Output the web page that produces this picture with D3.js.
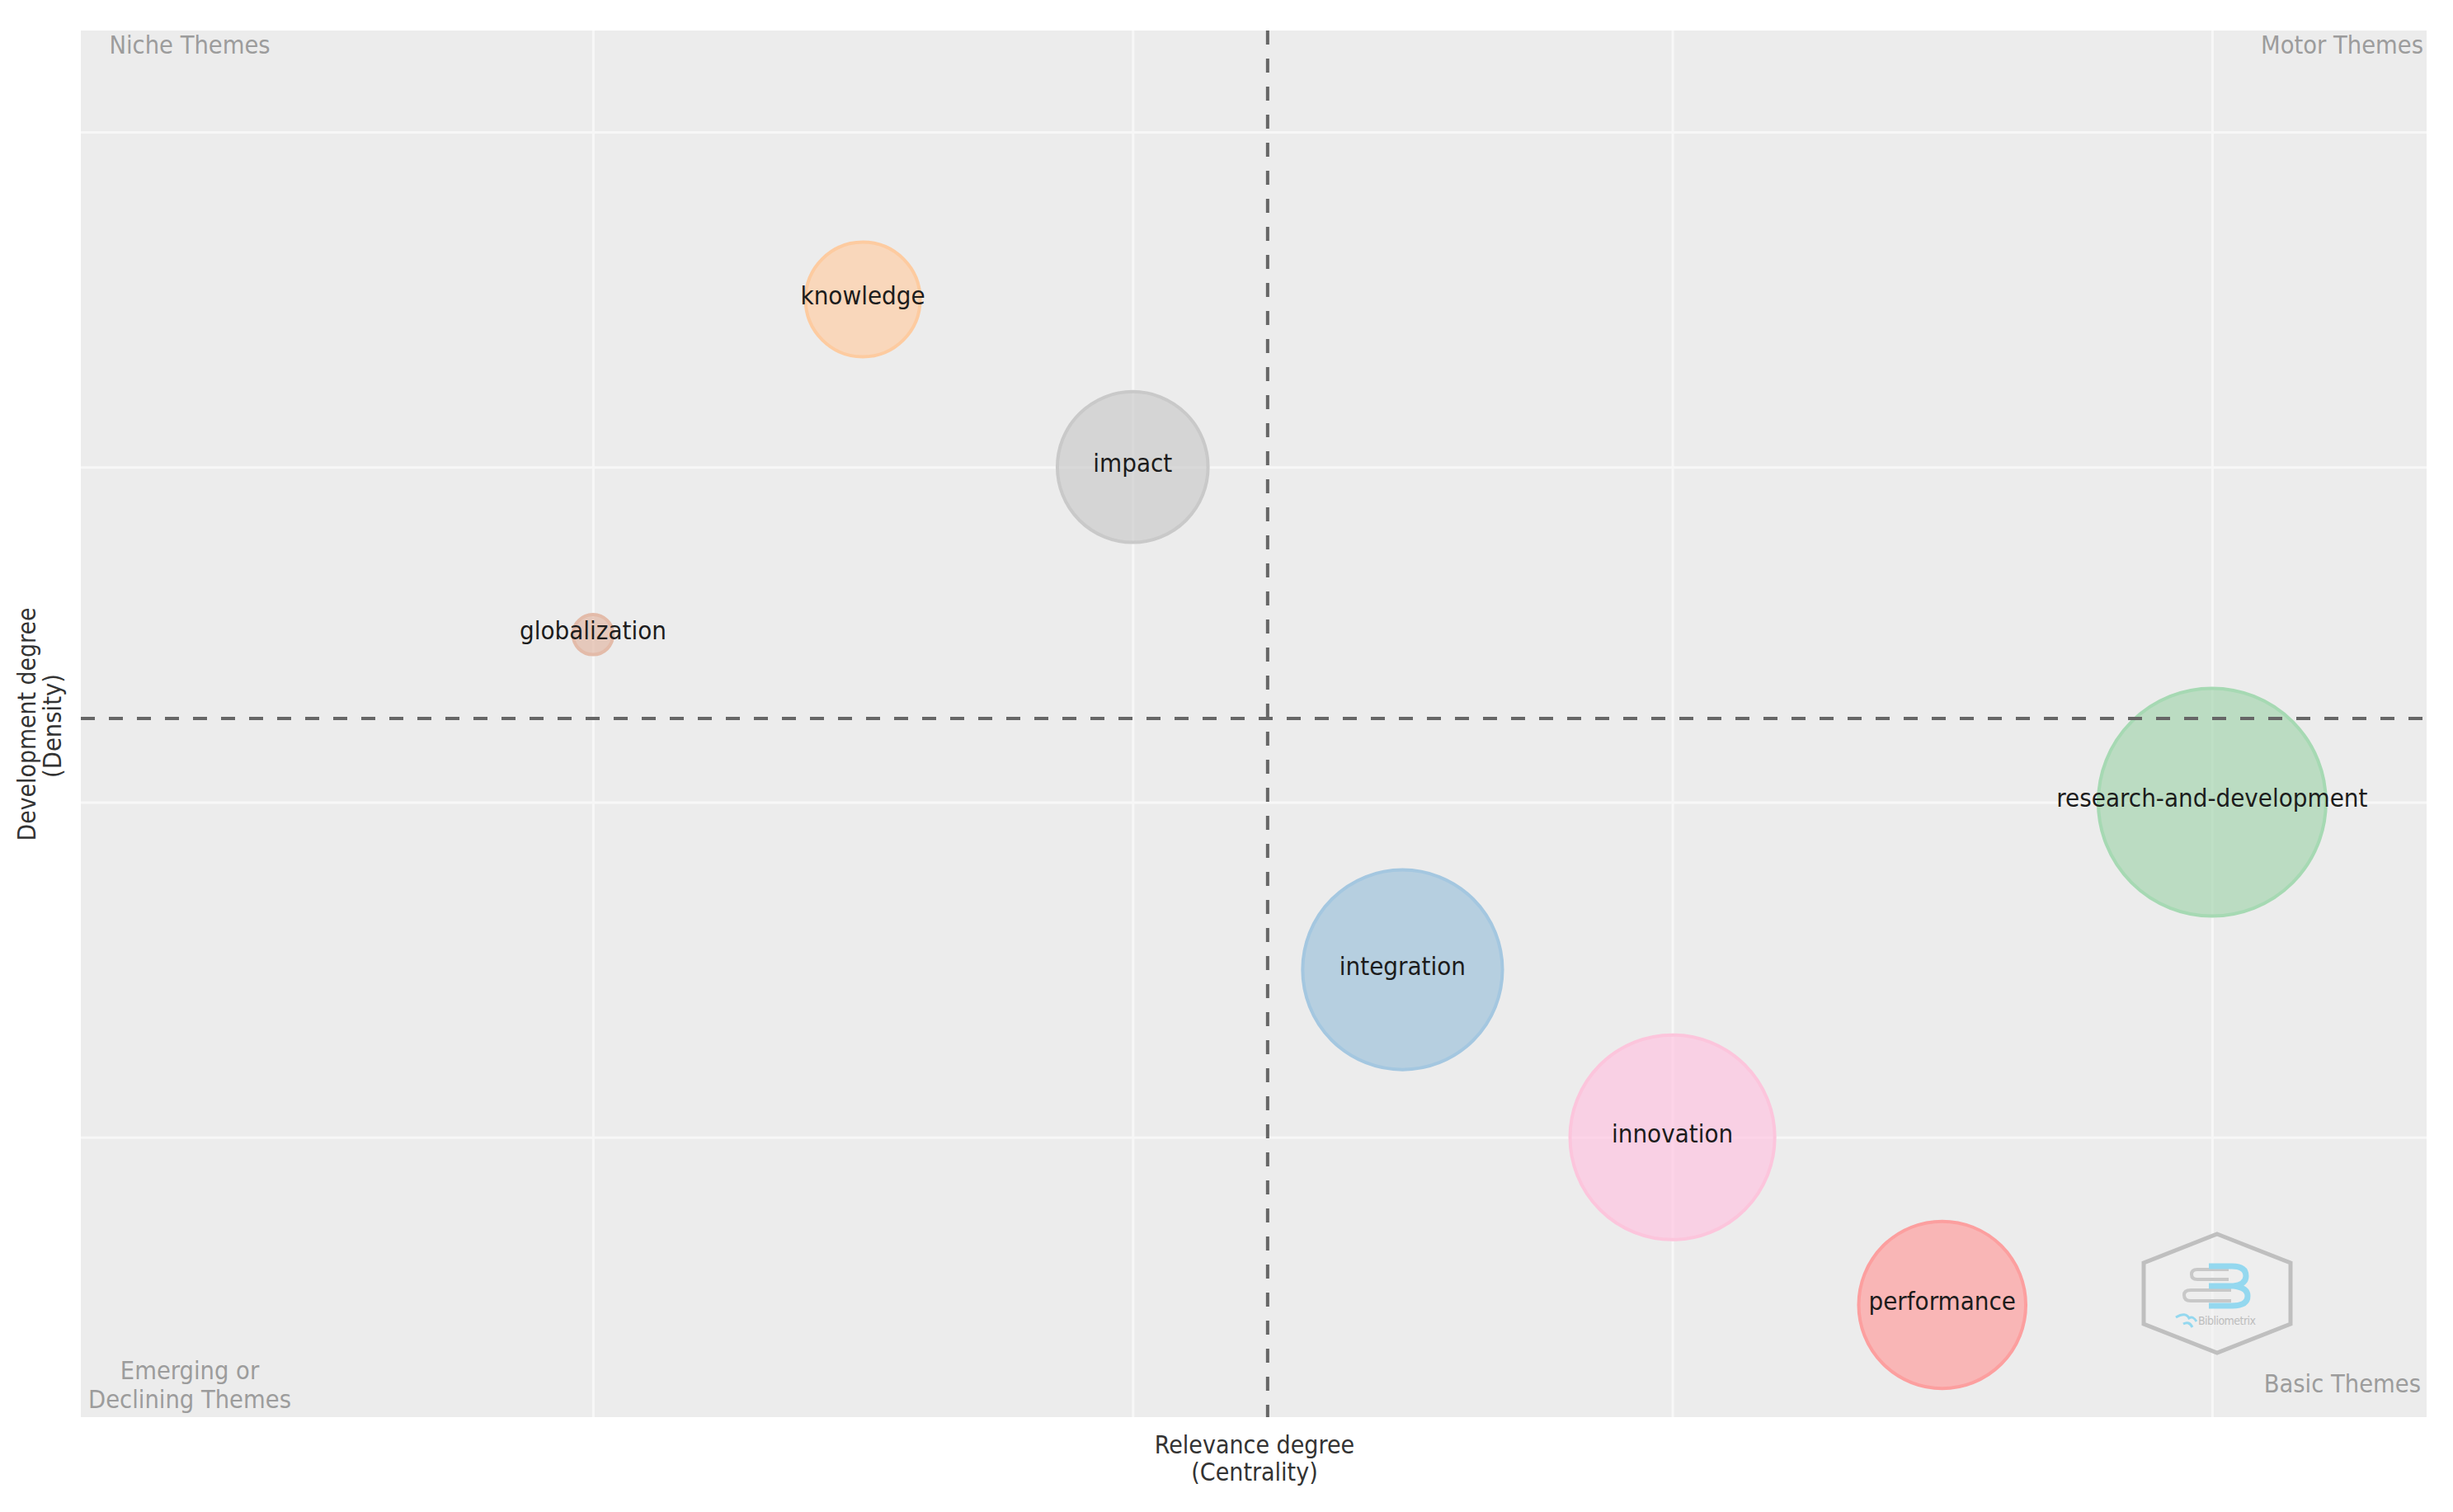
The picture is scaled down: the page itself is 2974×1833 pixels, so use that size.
<!DOCTYPE html>
<html>
<head>
<meta charset="utf-8">
<script src="https://d3js.org/d3.v7.min.js"></script>
<style type="text/css">
html, body {margin:0;padding:0;background:#fff;}
svg {display:block;}
text {font-family:"DejaVu Sans Condensed","DejaVu Sans",sans-serif;font-stretch:condensed;}
</style>
</head>

<body>
<svg id="chart" width="2974" height="1833"></svg>

<script type="text/javascript">
	// values: themes sit on rank positions
	var themes = ["globalization", "knowledge", "impact", "integration", "innovation", "performance", "research-and-development"];
	var centrality = [1, 2, 3, 4, 5, 6, 7];
	var density = [5, 7, 6, 3, 2, 1, 4];
	var clusterSize = [62, 507, 876, 1540, 1617, 1077, 2000];
	var xGrid = [1, 3, 5, 7];
	var yGrid = [2, 4, 6, 8];
	var xMedian = 3.5;
	var yMedian = 4.5;

	var fills = ["#e3b9a6", "#ffcfa6", "#cccccc", "#9fc3db", "#ffc5e1", "#ff9f9f", "#a7d5b1"];
	var strokes = ["#e3bba9", "#fdcba0", "#c9c9c9", "#a4c7e0", "#fcc5dc", "#fc9f9f", "#a6d9b3"];

	var W = 2974, H = 1833;
	var margin = {left:98, right:32, top:37, bottom:115};
	var plotW = W - margin.left - margin.right;
	var plotH = H - margin.top - margin.bottom;

	var x = d3.scaleLinear().domain([-0.898, 7.795]).range([0, plotW]);
	var y = d3.scaleLinear().domain([0.33, 8.605]).range([plotH, 0]);
	var r = d3.scaleSqrt().domain([0, 2000]).range([0, 138]);

	var svg = d3.select("#chart");
	var g = svg.append("g").attr("transform", "translate(" + margin.left + "," + margin.top + ")");

	g.append("rect").attr("width", plotW).attr("height", plotH).attr("fill", "#ececec");

	// grid comes from the axes, no tick labels in this chart
	g.append("g").attr("transform", "translate(0," + plotH + ")")
		.call(d3.axisBottom(x).tickValues(xGrid).tickSize(-plotH).tickFormat(""));
	g.append("g")
		.call(d3.axisLeft(y).tickValues(yGrid).tickSize(-plotW).tickFormat(""));
	g.selectAll(".domain").remove();
	g.selectAll(".tick line").attr("stroke", "#f7f7f7").attr("stroke-width", 3);

	// hexagon logo, bottom right
	var logo = g.append("g").attr("transform", "translate(" + (2688 - margin.left) + "," + (1568 - margin.top) + ")");
	logo.append("polygon")
		.attr("points", "0,-72 89,-37 89,37 0,72 -89,37 -89,-37")
		.attr("fill", "#f0f0f0").attr("fill-opacity", 0.6)
		.attr("stroke", "#bfbfbf").attr("stroke-width", 5);
	logo.append("path")
		.attr("d", "M14,-29 H-24 Q-31,-29 -31,-23 Q-31,-17 -24,-17 H14")
		.attr("fill", "none").attr("stroke", "#c8c8c8").attr("stroke-width", 4);
	logo.append("path")
		.attr("d", "M17,-4 H-32 Q-40,-4 -40,2 Q-40,9 -32,9 H17")
		.attr("fill", "none").attr("stroke", "#c8c8c8").attr("stroke-width", 4);
	logo.append("path")
		.attr("d", "M-10,-33 H18 Q35,-33 35,-21 Q35,-11 20,-9 Q37,-7 37,3 Q37,15 18,15 H-10 M-10,-9 H20")
		.attr("fill", "none").attr("stroke", "#94d8ef").attr("stroke-width", 7);
	logo.append("path")
		.attr("d", "M-50,29 Q-38,22 -34,30 Q-29,27 -25,34 M-41,37 Q-34,33 -30,41")
		.attr("fill", "none").attr("stroke", "#94d8ef").attr("stroke-width", 3);
	logo.append("text").attr("x", -23).attr("y", 38)
		.attr("font-size", 14).attr("fill", "#bdbdbd").attr("textLength", 70).text("Bibliometrix");

	// theme bubbles
	g.selectAll("circle.theme").data(themes).enter().append("circle")
		.attr("class", "theme")
		.attr("cx", function(d, i) { return x(centrality[i]); })
		.attr("cy", function(d, i) { return y(density[i]); })
		.attr("r", function(d, i) { return r(clusterSize[i]); })
		.attr("fill", function(d, i) { return fills[i]; })
		.attr("fill-opacity", 0.7)
		.attr("stroke", function(d, i) { return strokes[i]; })
		.attr("stroke-width", 4);

	// median lines
	g.append("line")
		.attr("x1", x(xMedian)).attr("x2", x(xMedian)).attr("y1", 0).attr("y2", plotH)
		.attr("stroke", "#666").attr("stroke-width", 4).attr("stroke-dasharray", "17,17");
	g.append("line")
		.attr("x1", 0).attr("x2", plotW).attr("y1", y(yMedian)).attr("y2", y(yMedian))
		.attr("stroke", "#666").attr("stroke-width", 4).attr("stroke-dasharray", "17,17");

	g.selectAll("text.label").data(themes).enter().append("text")
		.attr("class", "label")
		.attr("x", function(d, i) { return x(centrality[i]); })
		.attr("y", function(d, i) { return y(density[i]) + 6; })
		.attr("text-anchor", "middle")
		.attr("font-size", 31)
		.attr("fill", "#1c1c1c")
		.text(function(d) { return d; });

	// quadrant names
	function corner(txt, px, py, anchor) {
		svg.append("text").attr("x", px).attr("y", py).attr("text-anchor", anchor)
			.attr("font-size", 30.5).attr("fill", "#9c9c9c").text(txt);
	}
	corner("Niche Themes", 230, 65, "middle");
	corner("Motor Themes", 2938, 65, "end");
	corner("Basic Themes", 2935, 1688, "end");
	corner("Emerging or", 230, 1672, "middle");
	corner("Declining Themes", 230, 1707, "middle");

	// axis titles
	function title(txt, px, py, rot, len) {
		var t = svg.append("text").attr("text-anchor", "middle")
			.attr("font-size", 30).attr("fill", "#333").text(txt);
		if (rot) t.attr("transform", "translate(" + px + "," + py + ") rotate(-90)")
			.attr("textLength", len).attr("lengthAdjust", "spacingAndGlyphs");
		else t.attr("x", px).attr("y", py);
		return t;
	}
	title("Relevance degree", 1521, 1762);
	title("(Centrality)", 1521, 1795);
	title("Development degree", 43, 878, true, 283);
	title("(Density)", 74, 880, true, 126);
</script>
</body>
</html>
